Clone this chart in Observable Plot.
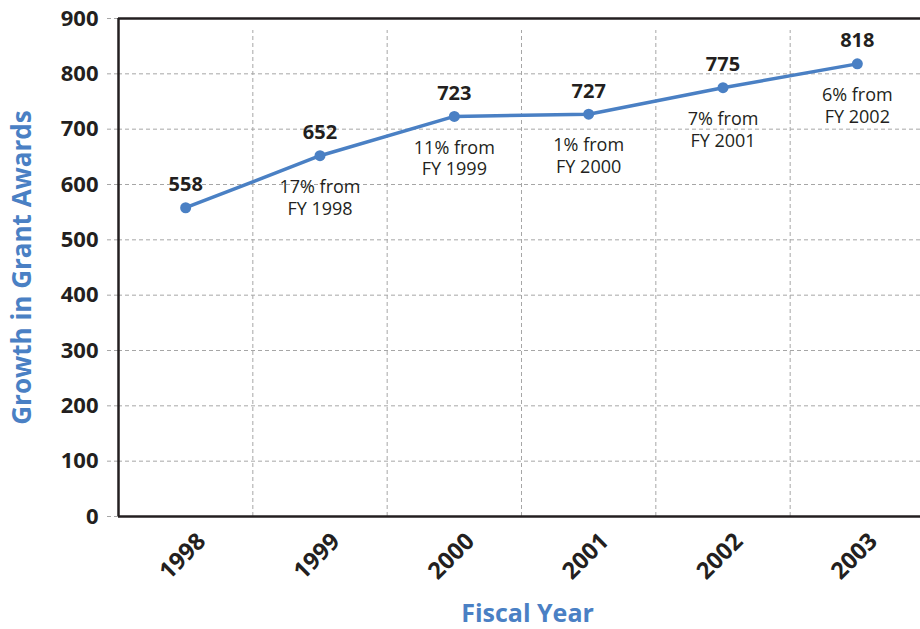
<!DOCTYPE html>
<html>
<head>
<meta charset="utf-8">
<script src="https://cdn.jsdelivr.net/npm/d3@7"></script>
<script src="https://cdn.jsdelivr.net/npm/@observablehq/plot@0.6"></script>
<style>
  html, body { margin: 0; padding: 0; background: #fff; }
  #chart svg { display: block; }
</style>
</head>
<body>
<div id="chart"></div>
<script>
const years = [1998, 1999, 2000, 2001, 2002, 2003];
const awards = [558, 652, 723, 727, 775, 818];
const notes = ["", "17% from\nFY 1998", "11% from\nFY 1999", "1% from\nFY 2000", "7% from\nFY 2001", "6% from\nFY 2002"];
const yTicks = [0, 100, 200, 300, 400, 500, 600, 700, 800, 900];
const yLabel = "Growth in Grant Awards";
const xLabel = "Fiscal Year";

const data = years.map((y, i) => ({year: y, value: awards[i], note: notes[i]}));
const bounds = years.map(y => y - 0.5);

const blue = "#4a80c4";
const ink = "#231f20";
const grid = "#a6a6a6";
const font = "'Open Sans', sans-serif";

const chart = Plot.plot({
  width: 920,
  height: 629,
  marginLeft: 118,
  marginRight: -4,
  marginTop: 18,
  marginBottom: 113,
  style: {fontFamily: font, background: "#fff"},
  x: {type: "linear", domain: [years[0] - 0.5, years[years.length - 1] + 0.5]},
  y: {domain: [0, 900]},
  marks: [
    Plot.ruleY(yTicks, {stroke: grid, strokeWidth: 1, strokeDasharray: "4,3"}),
    Plot.ruleX(bounds, {y1: 0, y2: 900, insetBottom: -12, stroke: grid, strokeWidth: 1, strokeDasharray: "4,3"}),
    Plot.axisY({ticks: yTicks, tickSize: 14, tickPadding: 6, stroke: grid, strokeDasharray: "4,3",
      fill: ink, fontSize: 22, fontWeight: "bold", label: null, tickFormat: d => String(d)}),
    Plot.axisX({ticks: years, tickSize: 0, tickPadding: 0, tickRotate: -45, fill: ink, fontSize: 23.5,
      fontWeight: "bold", label: null, tickFormat: d => String(d), dx: 16, dy: 21}),
    Plot.ruleY([0, 900], {stroke: ink, strokeWidth: 2.5}),
    Plot.ruleX([bounds[0]], {stroke: ink, strokeWidth: 2.5}),
    Plot.line(data, {x: "year", y: "value", stroke: blue, strokeWidth: 3.5}),
    Plot.dot(data, {x: "year", y: "value", r: 5.5, fill: blue}),
    Plot.text(data, {x: "year", y: "value", text: d => String(d.value), dy: -23, fontSize: 20,
      fontWeight: "bold", fill: ink}),
    Plot.text(data.filter(d => d.note), {x: "year", y: "value", text: "note", dy: 41, fontSize: 18,
      lineHeight: 1.22, fill: ink}),
    Plot.text([yLabel], {text: d => d, frameAnchor: "left", textAnchor: "middle", lineAnchor: "middle",
      rotate: -90, dx: -96, fontSize: 26, fontWeight: "bold", fill: blue}),
    Plot.text([xLabel], {text: d => d, frameAnchor: "bottom", textAnchor: "middle", lineAnchor: "middle",
      dx: 6, dy: 97, fontSize: 25, fontWeight: "bold", fill: blue})
  ]
});
document.getElementById("chart").appendChild(chart);
</script>
</body>
</html>
